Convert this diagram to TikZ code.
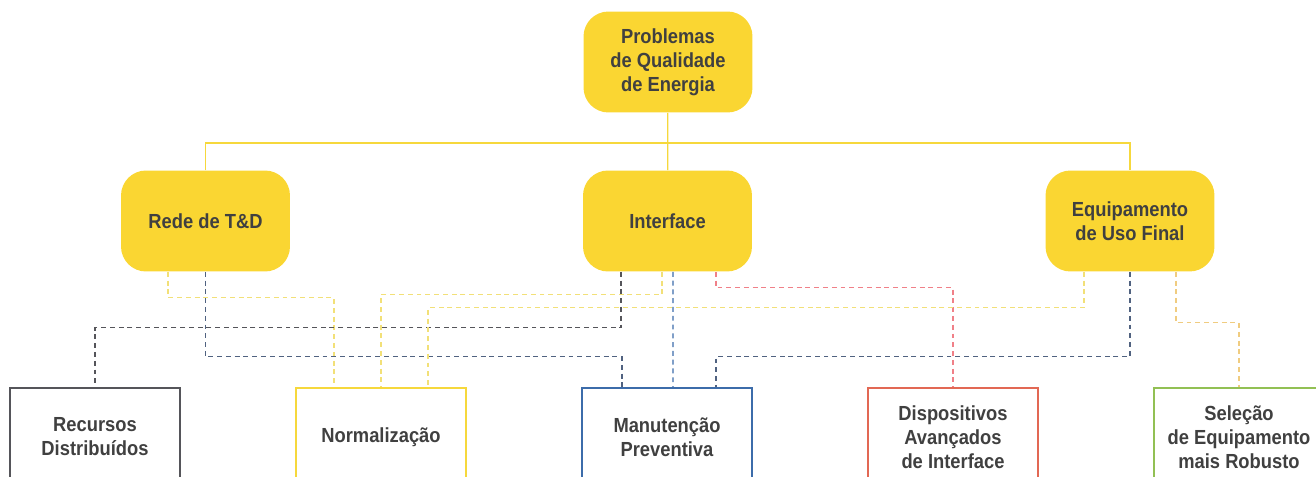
\documentclass[tikz,border=0pt]{standalone}
\usepackage{fontspec}
\setmainfont{Liberation Sans}[FakeStretch=0.9]
\usepackage{xcolor}
\usetikzlibrary{calc}
\definecolor{gold}{RGB}{250,214,50}
\definecolor{ink}{RGB}{64,64,64}
\definecolor{slate}{RGB}{85,85,90}
\definecolor{lemon}{RGB}{246,216,60}
\definecolor{navy}{RGB}{60,108,170}
\definecolor{coral}{RGB}{226,104,84}
\definecolor{leaf}{RGB}{146,192,84}
\definecolor{paleyel}{RGB}{242,224,120}
\definecolor{steel}{RGB}{80,98,128}
\definecolor{rose}{RGB}{240,128,136}
\definecolor{peach}{RGB}{240,204,128}

\begin{document}
\begin{tikzpicture}[x=0.02cm, y=-0.02cm,
  cause/.style={fill=gold, rounded corners=0.5cm, align=center, inner sep=0pt,
    minimum width=3.38cm, minimum height=2.02cm, text=ink,
    font=\bfseries\fontsize{11.6}{13.6}\selectfont},
  action/.style={draw, line width=0.05cm, fill=white, align=center, inner sep=0pt,
    minimum width=3.4cm, minimum height=1.96cm, text=ink,
    font=\bfseries\fontsize{11.6}{13.6}\selectfont},
  trunk/.style={draw=lemon, line width=0.7pt},
  link/.style={line width=0.6pt, dash pattern=on 2.8pt off 2.2pt}
]
\clip (0,0) rectangle (1316,477);

% Root and causes.
\node[cause] (prob) at (668,62) {Problemas\\de Qualidade\\de Energia};
\node[cause] (rede) at (205.5,221) {Rede de T\&D};
\node[cause] (iface) at (667.5,221) {Interface};
\node[cause] (equip) at (1130,221) {Equipamento\\de Uso Final};

\coordinate (hub) at (668,143);
\draw[trunk] (prob) -- (iface);
\draw[trunk] (rede.north) |- (hub) -| (equip.north);

% Solutions.
\node[action, draw=slate] (recur) at (95,437) {Recursos\\Distribuídos};
\node[action, draw=lemon] (norm) at (381,437) {Normalização};
\node[action, draw=navy] (manut) at (667,437) {Manutenção\\Preventiva};
\node[action, draw=coral] (disp) at (953,437) {Dispositivos\\Avançados\\de Interface};
\node[action, draw=leaf] (sel) at (1239,437) {Seleção\\de Equipamento\\mais Robusto};

% Dashed links.
\draw[link, draw=paleyel] ($(rede.south)+(-37.5,0)$) -- ++(0,26) -| ($(norm.north)+(-47,0)$);
\draw[link, draw=steel] (rede.south) -- ++(0,85) -| ($(manut.north)+(-45,0)$);
\draw[link, draw=slate] ($(iface.south)+(-46.5,0)$) -- ++(0,56) -| (recur.north);
\draw[link, draw=paleyel] ($(iface.south)+(-5.5,0)$) -- ++(0,23) -| (norm.north);
\draw[link, draw=navy] ($(iface.south)+(5.5,0)$) -- ($(manut.north)+(6,0)$);
\draw[link, draw=rose] ($(iface.south)+(48.5,0)$) -- ++(0,16) -| (disp.north);
\draw[link, draw=paleyel] ($(equip.south)+(-46,0)$) -- ++(0,36) -| ($(norm.north)+(47,0)$);
\draw[link, draw=steel] (equip.south) -- ++(0,85) -| ($(manut.north)+(49,0)$);
\draw[link, draw=peach] ($(equip.south)+(46,0)$) -- ++(0,51) -| (sel.north);

\end{tikzpicture}
\end{document}
